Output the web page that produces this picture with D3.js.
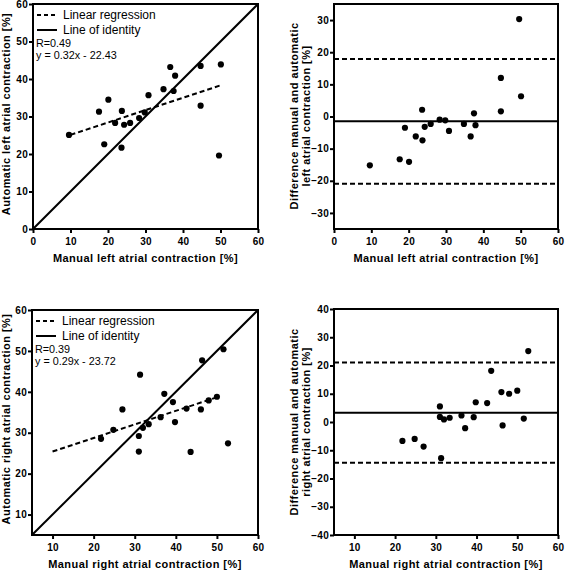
<!DOCTYPE html>
<html>
<head>
<meta charset="utf-8">
<script src="https://cdn.jsdelivr.net/npm/d3@7"></script>
<style>
  html, body { margin: 0; padding: 0; background: #fff; }
  svg { display: block; }
  .tick text { font-family: "Liberation Sans", Arial, sans-serif; font-weight: bold; font-size: 10px; letter-spacing: 0.3px; fill: #000; }
  .tick line { stroke: #000; stroke-width: 2; }
  .title { font-family: "Liberation Sans", Arial, sans-serif; font-weight: bold; font-size: 11px; letter-spacing: 0.45px; fill: #000; }
  .legend { font-family: "Liberation Sans", Arial, sans-serif; font-size: 12px; fill: #000; }
  .stat { font-family: "Liberation Sans", Arial, sans-serif; font-size: 10.8px; fill: #000; }
</style>
</head>
<body>
<svg id="chart" width="565" height="571"></svg>
<script>
// ---- Left atrium ----
const laManual = [9.6, 17.6, 19.0, 20.1, 21.9, 23.6, 23.7, 24.3, 25.9, 28.3, 29.8, 30.8, 34.8, 36.6, 37.5, 37.9, 44.7, 44.7, 49.6, 50.1];
const laAuto   = [25.1, 31.3, 22.6, 34.5, 28.3, 21.7, 31.5, 27.8, 28.3, 29.6, 31.1, 35.7, 37.3, 43.2, 36.8, 40.9, 32.9, 43.5, 19.6, 43.9];
const laDiff   = [-15.2, -13.3, -3.5, -14.1, -6.2, 2.1, -7.4, -3.2, -2.3, -1.0, -1.2, -4.5, -2.3, -6.2, 1.0, -2.7, 12.0, 1.6, 30.3, 6.3];
const laRegX = [10, 50];
const laRegY = [25.1, 38.3];
const laBias = -1.45;
const laLoA = [-20.9, 17.9];
const laStats = ["R=0.49", "y = 0.32x - 22.43"];

// ---- Right atrium ----
const raManual = [21.8, 24.8, 27.0, 31.0, 31.0, 31.3, 32.0, 33.4, 36.3, 37.2, 39.3, 39.8, 42.6, 43.6, 46.1, 46.4, 48.0, 50.0, 51.6, 52.7];
const raAuto   = [28.5, 30.7, 35.7, 29.2, 25.4, 44.2, 31.2, 32.1, 33.8, 39.5, 37.5, 32.6, 35.9, 25.3, 35.7, 47.7, 37.9, 38.8, 50.4, 27.4];
const raDiff   = [-6.7, -6.0, -8.7, 1.8, 5.5, -12.8, 0.9, 1.5, 2.3, -2.2, 1.7, 7.0, 6.7, 18.1, 10.6, -1.2, 10.0, 11.1, 1.2, 25.1];
const raRegX = [10, 50.4];
const raRegY = [25.4, 38.8];
const raBias = 3.25;
const raLoA = [-14.4, 21.1];
const raStats = ["R=0.39", "y = 0.29x - 23.72"];

// ---- Axes ----
const ticksLaX = [0, 10, 20, 30, 40, 50, 60];
const ticksLaY = [0, 10, 20, 30, 40, 50, 60];
const ticksLaDiff = [-30, -20, -10, 0, 10, 20, 30];
const ticksRaX = [10, 20, 30, 40, 50, 60];
const ticksRaY = [10, 20, 30, 40, 50, 60];
const ticksRaDiff = [-40, -30, -20, -10, 0, 10, 20, 30, 40];
const legendLabels = ["Linear regression", "Line of identity"];

const svg = d3.select("#chart");

function panel(cfg) {
  const x = d3.scaleLinear().domain(cfg.xDomain).range([cfg.left, cfg.right]);
  const y = d3.scaleLinear().domain(cfg.yDomain).range([cfg.bottom, cfg.top]);
  const g = svg.append("g");
  const clipId = "clip" + cfg.id;
  svg.append("clipPath").attr("id", clipId).append("rect")
    .attr("x", cfg.left).attr("y", cfg.top)
    .attr("width", cfg.right - cfg.left).attr("height", cfg.bottom - cfg.top);

  // axes
  g.append("g").attr("transform", `translate(0,${cfg.bottom})`)
    .call(d3.axisBottom(x).tickValues(cfg.xTicks).tickSize(4).tickSizeOuter(0).tickPadding(5).tickFormat(d3.format("d")))
    .call(a => a.select(".domain").remove());
  g.append("g").attr("transform", `translate(${cfg.left},0)`)
    .call(d3.axisLeft(y).tickValues(cfg.yTicks).tickSize(4).tickSizeOuter(0).tickPadding(1).tickFormat(d3.format("d")))
    .call(a => a.select(".domain").remove());

  const plot = g.append("g").attr("clip-path", `url(#${clipId})`);
  cfg.draw(plot, x, y);

  // frame
  g.append("rect").attr("x", cfg.left).attr("y", cfg.top)
    .attr("width", cfg.right - cfg.left).attr("height", cfg.bottom - cfg.top)
    .attr("fill", "none").attr("stroke", "#000").attr("stroke-width", 2);

  // points
  g.append("g").selectAll("circle").data(cfg.xs.map((v, i) => [v, cfg.ys[i]])).join("circle")
    .attr("cx", d => x(d[0])).attr("cy", d => y(d[1])).attr("r", 3.1).attr("fill", "#000");

  // x title
  g.append("text").attr("class", "title").attr("text-anchor", "middle")
    .attr("x", (cfg.left + cfg.right) / 2).attr("y", cfg.bottom + 33).text(cfg.xTitle);
  // y title
  cfg.yTitle.forEach((t, i) => {
    g.append("text").attr("class", "title").attr("text-anchor", "middle")
      .attr("transform", `translate(${cfg.yTitleX[i]},${cfg.yTitleY}) rotate(-90)`).text(t);
  });
  return g;
}

function scatterDraw(regX, regY) {
  return (plot, x, y) => {
    const dom = x.domain();
    plot.append("line").attr("x1", x(dom[0])).attr("y1", y(dom[0])).attr("x2", x(dom[1])).attr("y2", y(dom[1]))
      .attr("stroke", "#000").attr("stroke-width", 2);
    plot.append("line").attr("x1", x(regX[0])).attr("y1", y(regY[0])).attr("x2", x(regX[1])).attr("y2", y(regY[1]))
      .attr("stroke", "#000").attr("stroke-width", 2).attr("stroke-dasharray", "5,3");
  };
}
function baDraw(bias, loa) {
  return (plot, x, y) => {
    const dom = x.domain();
    plot.append("line").attr("x1", x(dom[0])).attr("x2", x(dom[1])).attr("y1", y(bias)).attr("y2", y(bias))
      .attr("stroke", "#000").attr("stroke-width", 2);
    loa.forEach(v => plot.append("line").attr("x1", x(dom[0])).attr("x2", x(dom[1])).attr("y1", y(v)).attr("y2", y(v))
      .attr("stroke", "#000").attr("stroke-width", 2).attr("stroke-dasharray", "5,3"));
  };
}
function legend(left, top, stats) {
  const g = svg.append("g");
  g.append("line").attr("x1", left + 4).attr("x2", left + 24).attr("y1", top + 11).attr("y2", top + 11)
    .attr("stroke", "#000").attr("stroke-width", 2).attr("stroke-dasharray", "4,3");
  g.append("line").attr("x1", left + 4).attr("x2", left + 24).attr("y1", top + 26).attr("y2", top + 26)
    .attr("stroke", "#000").attr("stroke-width", 2);
  legendLabels.forEach((t, i) => g.append("text").attr("class", "legend").attr("x", left + 30).attr("y", top + 15 + i * 15).text(t));
  stats.forEach((t, i) => g.append("text").attr("class", "stat").attr("x", left + 3).attr("y", top + 43 + i * 12).text(t));
}

panel({ id: 1, left: 33, right: 258, top: 4, bottom: 229, xDomain: [0, 60], yDomain: [0, 60],
  xTicks: ticksLaX, yTicks: ticksLaY, xs: laManual, ys: laAuto,
  xTitle: "Manual left atrial contraction [%]", yTitle: ["Automatic left atrial contraction [%]"],
  yTitleX: [10], yTitleY: 114, draw: scatterDraw(laRegX, laRegY) });
legend(33, 4, laStats);

panel({ id: 2, left: 334, right: 558, top: 4, bottom: 229, xDomain: [0, 60], yDomain: [-35, 35],
  xTicks: ticksLaX, yTicks: ticksLaDiff, xs: laManual, ys: laDiff,
  xTitle: "Manual left atrial contraction [%]", yTitle: ["Difference manual and automatic", "left atrial contraction [%]"],
  yTitleX: [298, 310], yTitleY: 116, draw: baDraw(laBias, laLoA) });

panel({ id: 3, left: 32, right: 258, top: 310, bottom: 535, xDomain: [5, 60], yDomain: [5, 60],
  xTicks: ticksRaX, yTicks: ticksRaY, xs: raManual, ys: raAuto,
  xTitle: "Manual right atrial contraction [%]", yTitle: ["Automatic right atrial contraction [%]"],
  yTitleX: [10], yTitleY: 419, draw: scatterDraw(raRegX, raRegY) });
legend(32, 310, raStats);

panel({ id: 4, left: 334, right: 558, top: 309, bottom: 535, xDomain: [5, 60], yDomain: [-40, 40],
  xTicks: ticksRaX, yTicks: ticksRaDiff, xs: raManual, ys: raDiff,
  xTitle: "Manual right atrial contraction [%]", yTitle: ["Difference manual and automatic", "right atrial contraction [%]"],
  yTitleX: [298, 310], yTitleY: 422, draw: baDraw(raBias, raLoA) });
</script>
</body>
</html>
